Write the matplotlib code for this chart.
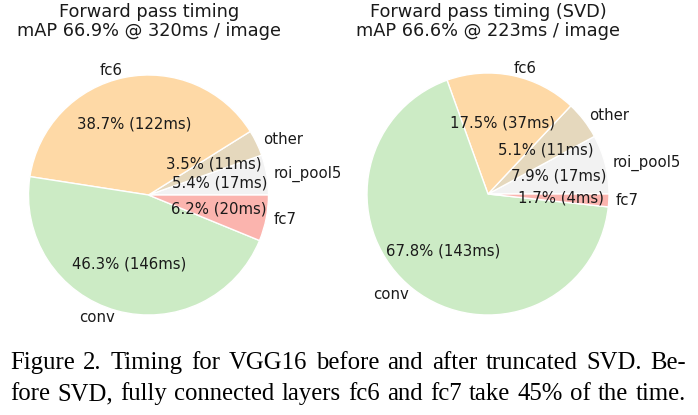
import matplotlib
matplotlib.use("Agg")
import matplotlib.pyplot as plt
import numpy as np

# slice order, counter-clockwise from 3 o'clock
layers = ["roi_pool5", "other", "fc6", "conv", "fc7"]
colors = ["#f2f2f2", "#e5d8bd", "#fed9a6", "#ccebc5", "#fbb4ae"]

pct_base = [5.4, 3.5, 38.7, 46.3, 6.2]
ms_base = [17, 11, 122, 146, 20]
title_base = "Forward pass timing\nmAP 66.9% @ 320ms / image"

pct_svd = [7.9, 5.1, 17.5, 67.8, 1.7]
ms_svd = [17, 11, 37, 143, 4]
title_svd = "Forward pass timing (SVD)\nmAP 66.6% @ 223ms / image"

caption = ["Figure 2. Timing for VGG16 before and after truncated SVD. Be-",
           "fore SVD, fully connected layers fc6 and fc7 take 45% of the time."]

W, H = 698, 415
fig = plt.figure(figsize=(W / 100, H / 100), dpi=100)


def draw_pie(rect, pct, ms, title, cx):
    ax = fig.add_axes(rect)
    labels_pct = ["%.1f%% (%dms)" % (p, m) for p, m in zip(pct, ms)]
    wedges, texts = ax.pie(pct, labels=layers, colors=colors, startangle=0,
                           counterclock=True, labeldistance=1.06,
                           wedgeprops={"edgecolor": "white", "linewidth": 1},
                           textprops={"fontsize": 10.7, "color": "#1a1a1a"})
    # "x% (Nms)" text at 0.6 of the radius, like autopct does
    for w, lab in zip(wedges, labels_pct):
        ang = np.deg2rad((w.theta1 + w.theta2) / 2)
        ax.text(0.6 * np.cos(ang), 0.6 * np.sin(ang), lab, ha="center",
                va="center", fontsize=10.7, color="#1a1a1a")
    ax.set_xlim(-1, 1)
    ax.set_ylim(-1, 1)
    ax.set_aspect("equal")
    ax.axis("off")
    fig.text(cx / W, 1 - 3 / H, title, ha="center", va="top",
             fontsize=12.8, color="#1a1a1a", linespacing=1.05)


draw_pie([28 / W, 100 / H, 241 / W, 240 / H], pct_base, ms_base, title_base, 149)
draw_pie([367 / W, 100 / H, 242 / W, 242 / H], pct_svd, ms_svd, title_svd, 488)

# justified caption in a serif font
renderer = fig.canvas.get_renderer()
x0, x1 = 10, 686
baselines = [369, 400]

# font size: first line a little narrower than the box, then justified
probe = fig.text(0, 0, caption[0], family="Liberation Serif", fontsize=10)
cap_size = 0.965 * 10 * (x1 - x0) / probe.get_window_extent(renderer).width
probe.remove()

for line, yb in zip(caption, baselines):
    words = line.split(" ")
    objs = [fig.text(0, 1 - yb / H, w, ha="left", va="baseline",
                     family="Liberation Serif", fontsize=cap_size, color="black")
            for w in words]
    widths = [o.get_window_extent(renderer).width for o in objs]
    gap = (x1 - x0 - sum(widths)) / (len(words) - 1)
    x = x0
    for o, wd in zip(objs, widths):
        o.set_x(x / W)
        x += wd + gap

fig.savefig("out.png", dpi=100)
